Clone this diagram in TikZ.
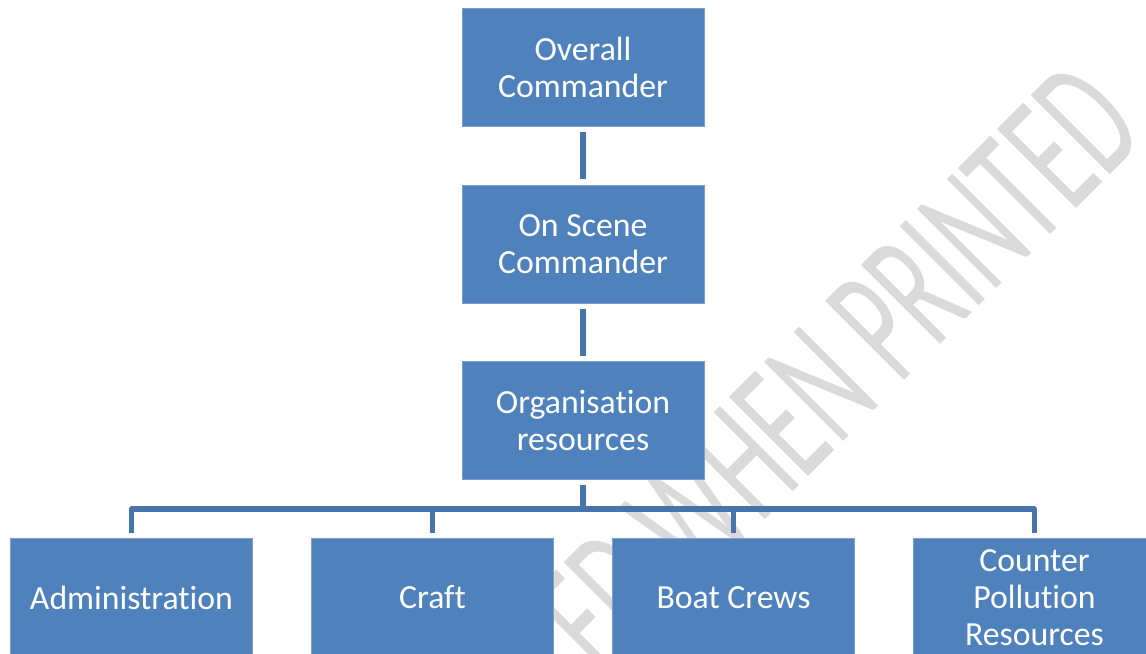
\documentclass[tikz,border=0pt]{standalone}
\usepackage{fontspec}
\setmainfont{Carlito}[Ligatures=NoCommon]
\usepackage{graphicx}

\definecolor{boxblue}{HTML}{4F81BD}
\definecolor{linkblue}{HTML}{4674AB}
\definecolor{markgray}{HTML}{DADADA}

\begin{document}
\begin{tikzpicture}[x=0.025cm,y=-0.025cm]

  \tikzset{ROLE/.style={fill=boxblue, draw=boxblue!75!white, line width=0.4pt,
      minimum width=6.05cm, minimum height=2.95cm, inner sep=0pt,
      align=center, text=white, font=\fontsize{24}{26.5}\selectfont} }

  \tikzset{LINK/.style={draw=linkblue, line width=3.6pt, line join=round,
      shorten >=4pt, shorten <=4pt} }

  \useasboundingbox (0,0) rectangle (1146,653);

  % watermark behind the chart
  \node (mark) at (1149,136) [anchor=base east, rotate=45, text=markgray, inner sep=0pt]
    {\scalebox{0.57}[1]{\fontsize{124}{124}\selectfont UNCONTROLLED WHEN PRINTED}};

  \node[ROLE] (oc)  at (583.0,  67.5) {Overall\\Commander};
  \node[ROLE] (osc) at (583.0, 244.0) {On Scene\\Commander};
  \node[ROLE] (org) at (583.0, 420.5) {Organisation\\resources};

  \node[ROLE] (adm)   at ( 131.5, 597.5) {Administration};
  \node[ROLE] (craft) at ( 432.5, 597.5) {Craft};
  \node[ROLE] (boat)  at ( 733.5, 597.5) {Boat Crews};
  \node[ROLE] (cpr)   at (1034.5, 597.5) {Counter\\Pollution\\Resources};

  \coordinate (bus) at (583.0, 509.0);

  \draw[LINK] (oc)  -- (osc);
  \draw[LINK] (osc) -- (org);
  \foreach \n in {adm,craft,boat,cpr}
    \draw[LINK] (org.south) -- (bus) -| (\n.north);

\end{tikzpicture}
\end{document}
